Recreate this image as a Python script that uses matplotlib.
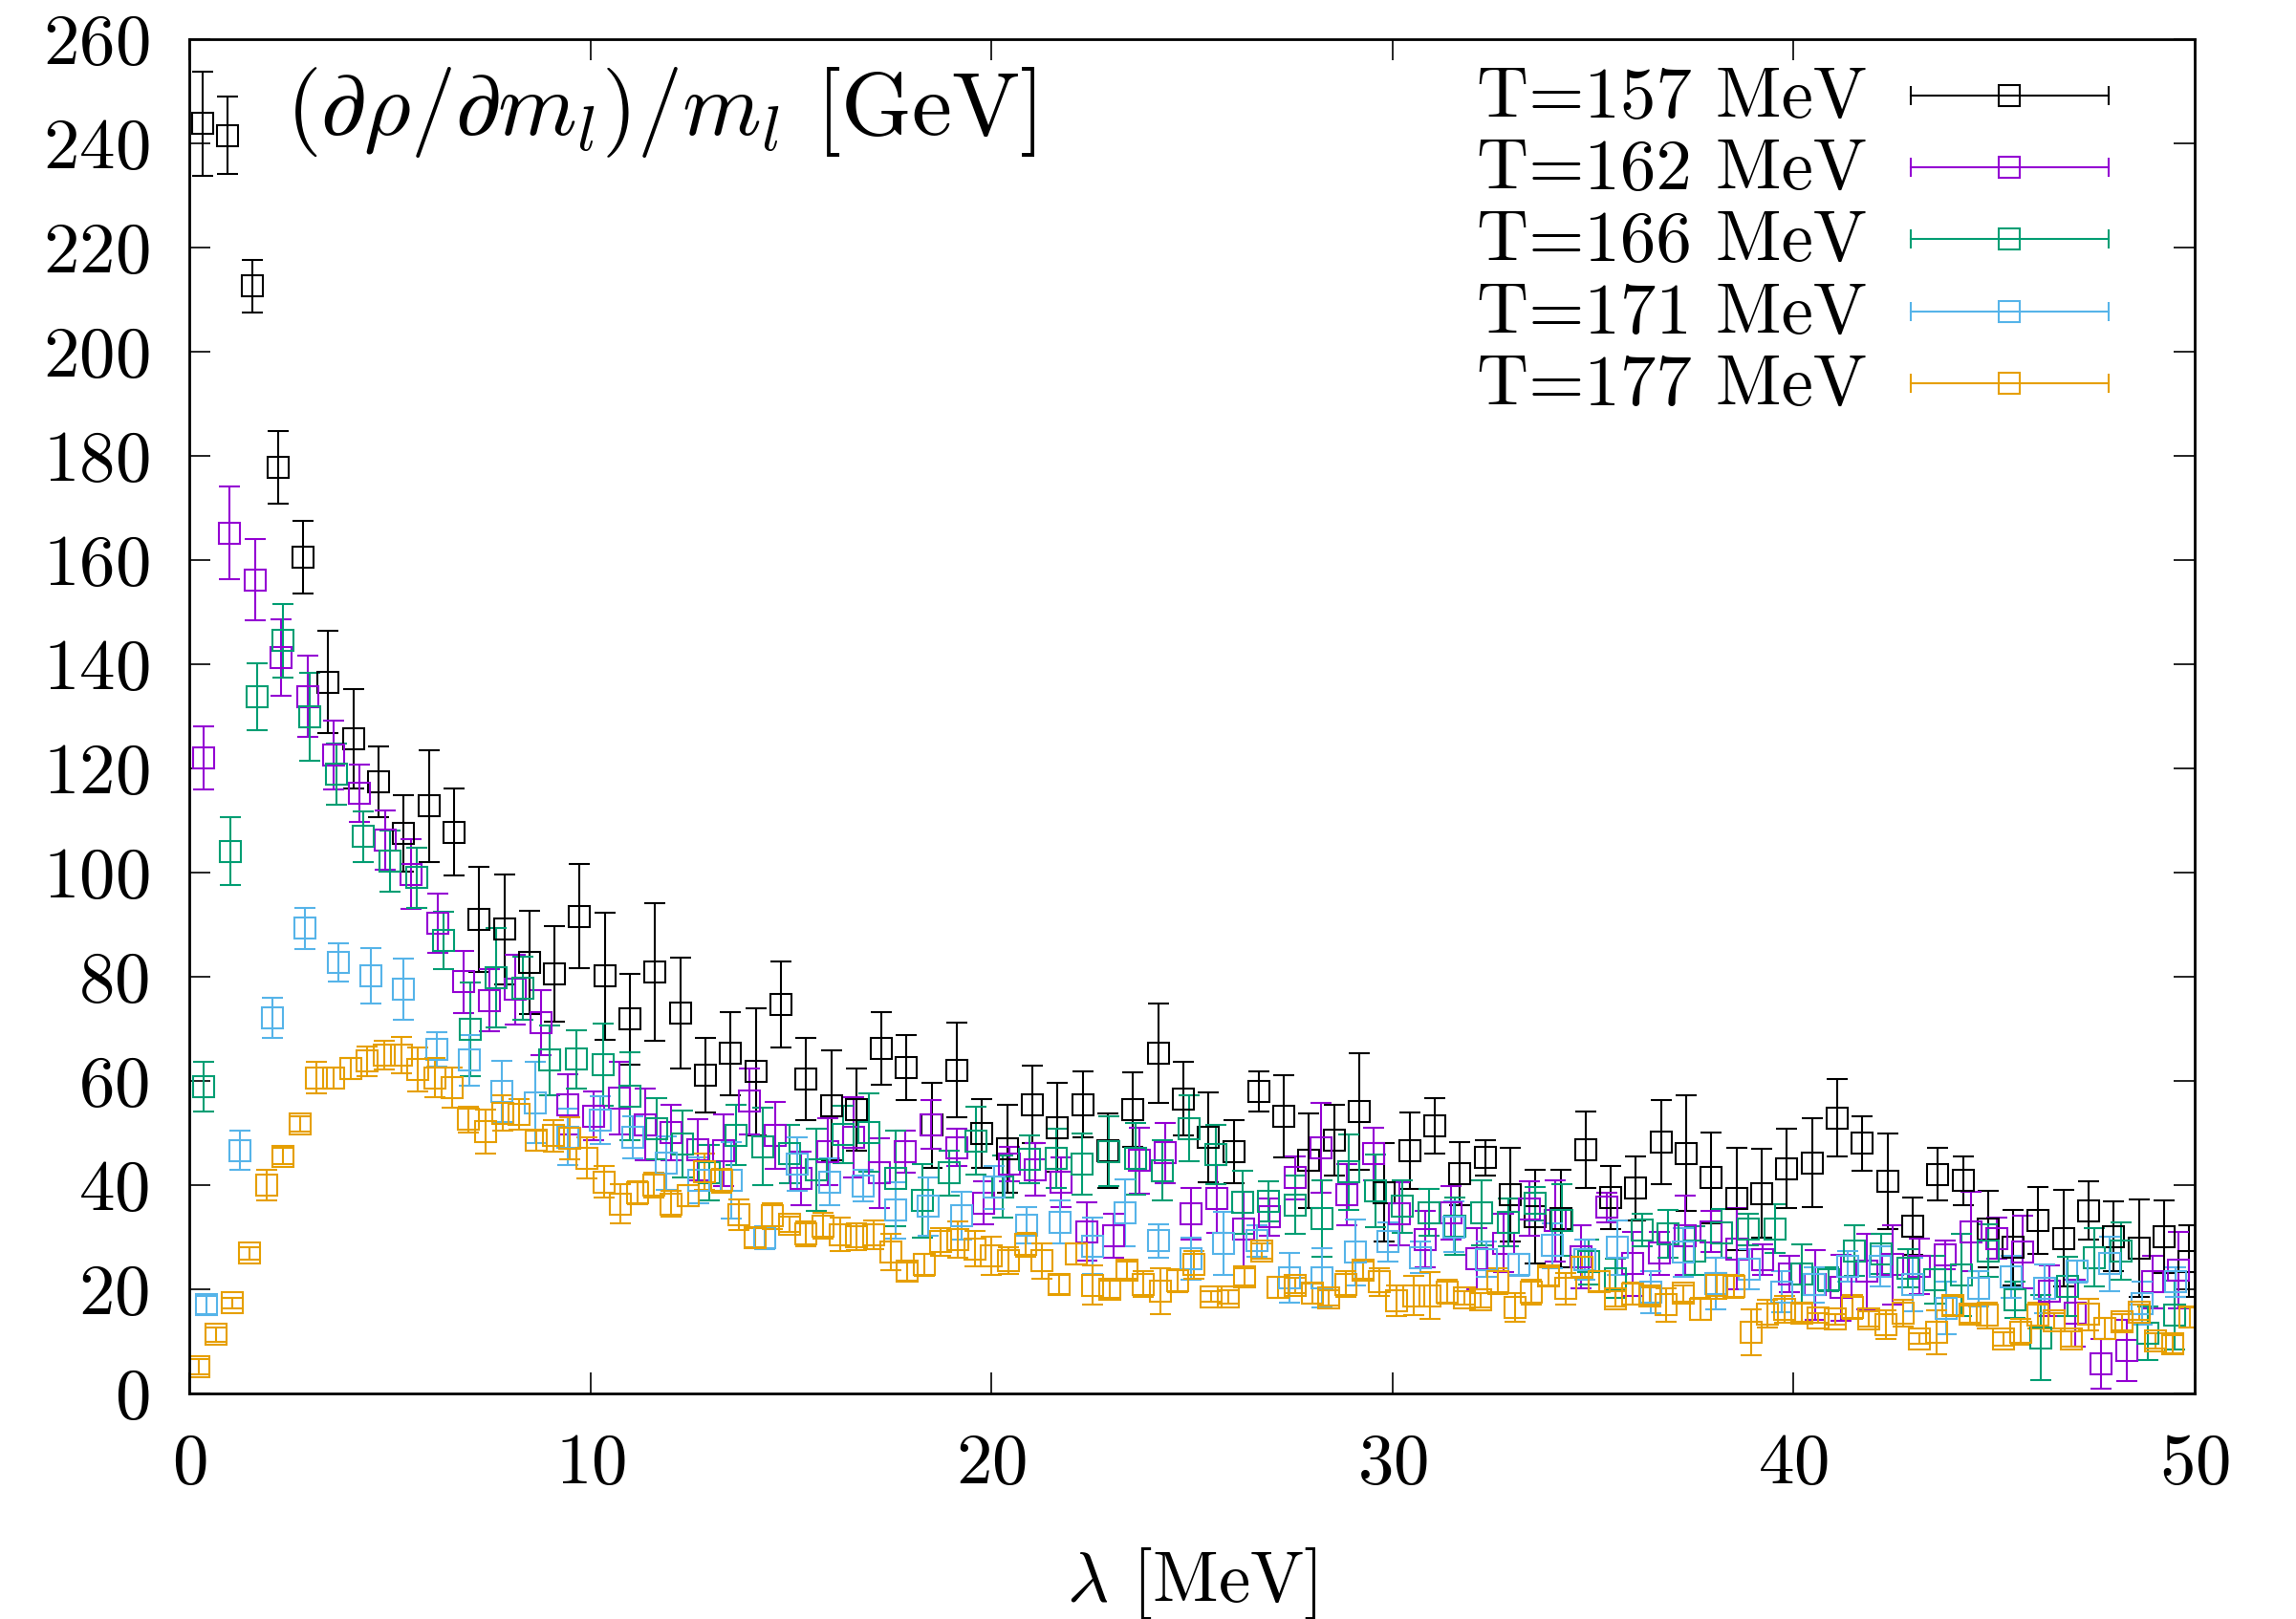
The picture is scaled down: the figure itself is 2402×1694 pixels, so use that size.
import matplotlib
matplotlib.use("Agg")
import matplotlib.pyplot as plt
import numpy as np

plt.rcParams["font.family"] = "cmr10"
plt.rcParams["mathtext.fontset"] = "cm"
plt.rcParams["axes.unicode_minus"] = False
plt.rcParams["axes.formatter.use_mathtext"] = True

# ---- data (lambda in MeV, value in GeV) ----
labels = ["T=157 MeV", "T=162 MeV", "T=166 MeV", "T=171 MeV", "T=177 MeV"]
colors = ["#000000", "#9400d3", "#009e73", "#56b4e9", "#e69f00"]

# uniform lambda bins: first bin centre and bin width per temperature
lam_start = [0.33, 0.357, 0.357, 0.437, 0.238]
lam_step = [0.627, 0.648, 0.664, 0.818, 0.4206]

y_157 = [243.8, 241.5, 212.6, 177.8, 160.5, 136.6, 125.7, 117.5, 107.5, 112.8,
         107.8, 91.0, 89.1, 82.8, 80.6, 91.6, 80.1, 71.9, 80.9, 73.0,
         61.1, 65.3, 61.8, 74.7, 60.3, 55.3, 54.5, 66.2, 62.6, 51.5,
         62.1, 49.9, 47.0, 55.5, 51.1, 55.5, 46.6, 54.5, 65.3, 56.6,
         49.2, 46.4, 58.0, 53.2, 44.7, 48.7, 54.1, 38.6, 46.6, 51.4,
         42.2, 45.3, 38.2, 33.9, 33.6, 46.8, 37.6, 39.4, 48.2, 46.1,
         41.4, 37.4, 38.4, 43.2, 44.3, 52.9, 48.0, 40.8, 32.2, 42.1,
         40.9, 31.6, 28.0, 33.2, 29.8, 35.1, 30.1, 27.9, 30.1, 25.4]
e_157 = [10, 7.4, 5.1, 7, 7, 9.8, 9.6, 6.8, 7.3, 10.7,
         8.4, 10.1, 10.6, 9.9, 9.2, 10, 12.2, 8.7, 13.2, 10.7,
         7.2, 8, 12.2, 8.3, 7.9, 10.6, 7.9, 7, 6.2, 8.2,
         9.1, 6.6, 8.4, 7.4, 8.6, 6.4, 7.2, 7.1, 9.6, 7,
         8.6, 6, 3.9, 7.9, 9.1, 6.8, 11.2, 9.5, 7.3, 5.3,
         6, 3.4, 9, 9, 9.3, 7.3, 6.1, 6.2, 8.1, 11.1,
         8.7, 9.8, 8.5, 7.6, 8.5, 7.4, 5.3, 9.2, 5.5, 5,
         4.7, 7.3, 7.3, 6.4, 9.3, 5.6, 6.7, 9.4, 6.9, 6.9]

y_162 = [122.0, 165.2, 156.2, 141.3, 133.8, 122.5, 115.3, 106.2, 99.7, 90.2,
         79.0, 75.5, 77.6, 71.2, 55.5, 53.3, 56.7, 51.6, 50.1, 46.8,
         46.7, 56.1, 49.5, 41.3, 46.4, 49.2, 42.3, 46.4, 51.6, 47.2,
         36.6, 44.0, 43.0, 40.6, 31.1, 30.3, 44.7, 46.2, 34.5, 37.4,
         31.6, 33.9, 41.4, 47.2, 38.2, 46.0, 34.5, 29.6, 34.7, 25.9,
         28.9, 35.5, 33.2, 26.2, 35.7, 24.9, 26.9, 30.3, 31.1, 27.8,
         25.7, 22.9, 20.9, 20.3, 23.4, 24.7, 24.4, 26.6, 31.1, 29.8,
         27.1, 19.7, 15.4, 5.7, 8.2, 21.4, 23.7]
e_162 = [6.1, 8.9, 7.8, 7.3, 7.8, 6.6, 5.5, 5.7, 6.7, 5.7,
         5.9, 6, 6.7, 6.3, 5.7, 4.6, 7, 6.9, 5.3, 5.8,
         6.9, 6.3, 6.4, 5.2, 6.4, 7.7, 6.7, 4, 4.7, 3.6,
         4.2, 3.3, 5, 4.8, 5.6, 4.2, 6.3, 5.8, 4.9, 6.5,
         7.2, 3.6, 4.1, 8.6, 5.9, 5, 6.1, 5.4, 5.2, 5.9,
         5.6, 5.2, 7.8, 6.1, 2.9, 6.2, 4.2, 7.6, 4, 7.8,
         3, 3.5, 6.7, 6.3, 7.3, 7.6, 5.4, 2.7, 7.6, 4,
         7, 4.8, 6.4, 4.8, 5.9, 5, 7.3]

y_166 = [58.9, 104.1, 133.7, 144.5, 129.9, 118.9, 106.9, 102.2, 99.0, 86.9,
         69.9, 79.8, 77.8, 64.0, 64.2, 63.2, 57.1, 50.8, 47.9, 42.4,
         49.6, 47.4, 46.0, 43.0, 49.7, 50.1, 41.3, 37.0, 42.3, 48.5,
         39.7, 45.0, 45.1, 44.1, 46.5, 45.1, 42.8, 50.9, 45.8, 36.7,
         36.9, 36.2, 33.6, 42.5, 38.9, 35.9, 34.7, 32.2, 34.7, 32.8,
         36.5, 33.3, 25.3, 22.1, 31.4, 30.6, 27.4, 30.8, 31.5, 31.6,
         23.0, 21.9, 27.4, 26.8, 24.0, 21.8, 22.8, 27.4, 18.0, 10.7,
         20.5, 26.1, 27.3, 11.6, 15.0]
e_166 = [4.8, 6.5, 6.4, 7, 8.4, 5.8, 4.8, 5.9, 5.8, 5.5,
         9, 9.5, 6.1, 6.7, 5.6, 7.9, 8.4, 5.9, 6.4, 5.3,
         5.8, 7.4, 5.6, 7.9, 5.5, 7.5, 9.1, 7.1, 4.3, 6.5,
         6, 4.6, 5.7, 5.9, 6.7, 6.9, 5.8, 6.3, 5.7, 6.1,
         3.9, 5.6, 7.3, 7.3, 7, 5, 4.5, 5.5, 6.2, 4.6,
         3.2, 6.8, 4.3, 3.8, 3.1, 4.6, 4.7, 4.7, 3, 4.7,
         5.6, 2.3, 4.9, 3.9, 3.7, 4.6, 7.9, 5.1, 3.5, 8.2,
         5.7, 5.6, 5.5, 5.1, 6.6]

y_171 = [17.0, 46.7, 72.1, 89.3, 82.7, 80.2, 77.6, 66.0, 64.0, 58.0,
         55.8, 49.2, 52.5, 49.2, 44.2, 40.9, 40.9, 29.9, 44.0, 40.6,
         39.9, 35.2, 35.9, 34.2, 39.6, 32.3, 32.9, 28.3, 34.7, 29.3,
         25.9, 28.8, 29.3, 22.2, 22.2, 27.1, 29.1, 26.1, 32.0, 25.7,
         24.7, 28.4, 25.7, 28.0, 19.5, 27.1, 21.1, 23.9, 19.5, 20.9,
         24.4, 24.4, 20.9, 16.4, 20.1, 22.4, 20.1, 23.4, 24.9, 17.3,
         21.4]
e_171 = [1.7, 3.7, 3.8, 4, 3.7, 5.3, 5.8, 3.3, 4.9, 5.8,
         7.8, 5.4, 4.6, 4.1, 5.2, 4.4, 7.3, 2.2, 5.1, 4.5,
         3, 5.4, 5.6, 4.6, 4.1, 3.4, 4.1, 5.4, 6.4, 3.2,
         4.1, 6.1, 3, 4.8, 5.7, 6.3, 3.8, 3, 4.9, 3.4,
         2.1, 4.3, 3.8, 5.3, 4, 4.7, 5, 3.9, 3.9, 3.4,
         3, 3.9, 5.1, 5.1, 3.4, 4.1, 4.6, 2.1, 5.2, 4.1,
         2.9]

y_177 = [5.1, 11.3, 17.4, 26.9, 40.0, 45.6, 51.7, 60.6, 60.6, 62.4,
         63.8, 65.0, 65.0, 62.2, 60.6, 58.7, 52.6, 50.3, 53.8, 53.6,
         48.6, 49.5, 49.0, 45.2, 40.6, 36.4, 38.6, 40.0, 36.4, 38.0,
         42.6, 40.9, 34.3, 29.9, 34.1, 32.5, 30.7, 32.2, 30.5, 30.1,
         30.5, 27.1, 23.4, 24.7, 29.1, 29.5, 27.8, 26.4, 25.5, 28.6,
         25.5, 20.9, 26.8, 20.8, 20.0, 23.7, 21.0, 19.7, 21.7, 24.7,
         18.6, 18.6, 22.4, 27.4, 20.3, 20.7, 19.2, 18.3, 21.0, 23.7,
         21.4, 17.8, 18.8, 18.8, 19.5, 18.4, 17.9, 21.5, 16.5, 19.5,
         22.5, 20.1, 24.3, 21.5, 18.2, 19.1, 18.7, 17.0, 19.2, 16.2,
         20.7, 20.5, 11.8, 15.3, 16.2, 15.5, 14.5, 14.3, 16.6, 14.3,
         13.2, 15.4, 10.5, 11.7, 16.8, 15.2, 15.0, 10.4, 11.8, 15.0,
         14.0, 10.5, 15.2, 12.5, 13.7, 15.6, 10.1, 9.5, 14.6]
e_177 = [1.5, 1.3, 1, 1.2, 2.9, 1.5, 1.5, 3, 2, 2,
         2.8, 2.8, 3.5, 4.2, 3.8, 3.9, 2.5, 4.2, 3.4, 3,
         1.9, 3, 4, 4, 3, 3.7, 2.2, 2.4, 2.5, 2,
         3.5, 2.3, 2.9, 1.8, 2.5, 1.5, 2.4, 2.4, 3.2, 2.5,
         2.7, 3.5, 1.8, 2.1, 2.6, 3.5, 3.4, 3.7, 2.5, 2.3,
         3.4, 1.8, 2, 3.8, 1.7, 1.7, 2.4, 4.4, 2.2, 2.7,
         1, 1.3, 1.7, 1.5, 2, 1.5, 1.9, 1.5, 2.5, 1.7,
         2.7, 3, 3.7, 4.5, 2.3, 1.3, 1.4, 2.5, 2.7, 2.4,
         1.7, 3, 2, 1.9, 1.5, 2.1, 1.7, 3.2, 1.5, 2.1,
         2.5, 2.2, 4.4, 2.7, 2.6, 1.8, 1, 1, 2.3, 1.4,
         2.8, 2.5, 1, 4.2, 1.7, 1.7, 2.5, 1.3, 2.5, 2.5,
         1.5, 1.5, 3, 2, 1.5, 1.5, 1.5, 1.7, 2]

values = [y_157, y_162, y_166, y_171, y_177]
errors = [e_157, e_162, e_166, e_171, e_177]

# ---- figure ----
fig = plt.figure(figsize=(24.02, 16.94), dpi=100)
fig.subplots_adjust(left=0.0824, right=0.9559, top=0.9758, bottom=0.1393)
ax = fig.add_subplot(111)

ms, lw, cap = 16, 1.5, 7.8
for start, step, y, e, c in zip(lam_start, lam_step, values, errors, colors):
    x = start + step * np.arange(len(y))
    ax.errorbar(x, y, yerr=e, fmt="s", ms=ms, mfc="none", mec=c, mew=lw,
                ecolor=c, elinewidth=lw, capsize=cap, capthick=lw)

ax.set_xlim(0, 50)
ax.set_ylim(0, 260)
ax.set_xticks(np.arange(0, 51, 10))
ax.set_yticks(np.arange(0, 261, 20))
ax.tick_params(direction="in", top=True, right=True, length=16, width=1.2,
               labelsize=54, pad=30)
for s in ax.spines.values():
    s.set_linewidth(2.0)

ax.set_xlabel(r"$\lambda$ [MeV]", fontsize=54, labelpad=36)

ax.text(0.048, 0.9292, r"$(\partial\rho/\partial m_l)/m_l$ [GeV]",
        transform=ax.transAxes, fontsize=68, ha="left", va="baseline")

# gnuplot-style key: label on the left, error-bar sample on the right
for i, (lab, c) in enumerate(zip(labels, colors)):
    yl = 0.9587 - 0.0532 * i
    ax.text(0.8365, yl - 0.0163, lab, transform=ax.transAxes, fontsize=54,
            ha="right", va="baseline")
    ax.plot([0.8584, 0.957], [yl, yl], color=c, lw=1.5,
            transform=ax.transAxes, clip_on=False)
    ax.plot([0.8584, 0.957], [yl, yl], ls="none", marker="|", ms=15, mew=1.5,
            color=c, transform=ax.transAxes, clip_on=False)
    ax.plot([0.9075], [yl], ls="none", marker="s", ms=ms, mfc="none", mec=c,
            mew=lw, transform=ax.transAxes, clip_on=False)

fig.savefig("out.png", dpi=100)
